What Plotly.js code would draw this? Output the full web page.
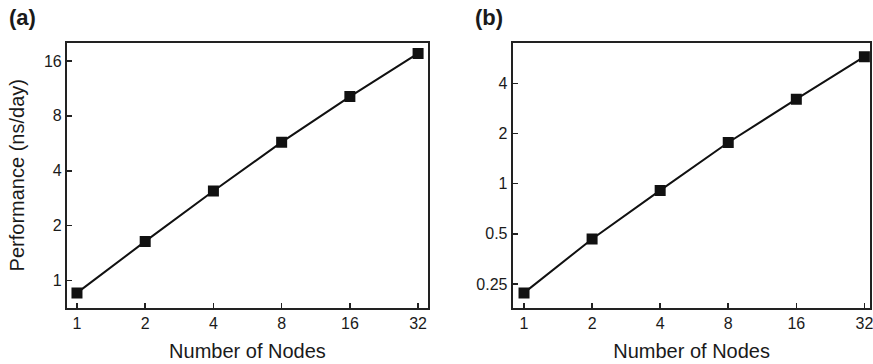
<!DOCTYPE html>
<html>
<head>
<meta charset="utf-8">
<script src="https://cdn.plot.ly/plotly-3.0.1.min.js"></script>
<style>html,body{margin:0;padding:0;background:#fff;}#chart{width:873px;height:364px;}</style>
</head>
<body>
<div id="chart"></div>
<script>
const nodes = [1, 2, 4, 8, 16, 32];
const perfA = [0.856, 1.64, 3.10, 5.74, 10.2, 17.6];
const perfB = [0.221, 0.466, 0.912, 1.77, 3.22, 5.80];
const xTickVals = [1, 2, 4, 8, 16, 32];
const xTickText = ['1', '2', '4', '8', '16', '32'];
const yTickValsA = [1, 2, 4, 8, 16];
const yTickTextA = ['1', '2', '4', '8', '16'];
const yTickValsB = [0.25, 0.5, 1, 2, 4];
const yTickTextB = ['0.25', '0.5', '1', '2', '4'];

const fontFam = 'Liberation Sans, Arial, sans-serif';
const ink = '#1a1a1a';

function trace(y, xa, ya) {
  return {
    x: nodes, y: y, xaxis: xa, yaxis: ya, type: 'scatter', mode: 'lines+markers',
    line: {color: '#111', width: 2},
    marker: {symbol: 'square', size: 11, color: '#111'},
    showlegend: false, hoverinfo: 'skip'
  };
}

const axisCommon = {
  type: 'log', showgrid: false, zeroline: false,
  showline: true, mirror: true, linecolor: '#222', linewidth: 2,
  ticks: 'inside', ticklen: 5, tickwidth: 1.5, tickcolor: '#222',
  ticklabeloverflow: 'allow',
  tickfont: {family: fontFam, size: 16, color: ink}
};

const xTitle = {text: 'Number of Nodes', font: {family: fontFam, size: 20, color: ink}, standoff: 13};

const layout = {
  width: 873, height: 364,
  margin: {l: 0, r: 0, t: 0, b: 0},
  paper_bgcolor: '#fff', plot_bgcolor: '#fff',
  xaxis: Object.assign({}, axisCommon, {
    domain: [0.0767, 0.4903], anchor: 'y',
    range: [-0.0442, 1.549],
    tickvals: xTickVals, ticktext: xTickText, title: xTitle
  }),
  yaxis: Object.assign({}, axisCommon, {
    domain: [0.1552, 0.8819], anchor: 'x',
    range: [-0.1475, 1.3026],
    tickvals: yTickValsA, ticktext: yTickTextA,
    title: {text: 'Performance (ns/day)', font: {family: fontFam, size: 20, color: ink}, standoff: 14}
  }),
  xaxis2: Object.assign({}, axisCommon, {
    domain: [0.5873, 0.9971], anchor: 'y2',
    range: [-0.050, 1.532],
    tickvals: xTickVals, ticktext: xTickText, title: xTitle
  }),
  yaxis2: Object.assign({}, axisCommon, {
    domain: [0.1552, 0.8819], anchor: 'x2',
    range: [-0.7435, 0.8456],
    tickvals: yTickValsB, ticktext: yTickTextB
  }),
  annotations: [
    {text: '<b>(a)</b>', x: 7, y: 17, xref: 'paper', yref: 'paper', showarrow: false,
     xanchor: 'left', yanchor: 'middle', font: {family: fontFam, size: 22, color: ink}},
    {text: '<b>(b)</b>', x: 473, y: 17, xref: 'paper', yref: 'paper', showarrow: false,
     xanchor: 'left', yanchor: 'middle', font: {family: fontFam, size: 22, color: ink}}
  ]
};
layout.annotations.forEach(a => { a.x = a.x / 873; a.y = 1 - a.y / 364; });

Plotly.newPlot('chart', [trace(perfA, 'x', 'y'), trace(perfB, 'x2', 'y2')], layout, {staticPlot: true});
</script>
</body>
</html>
